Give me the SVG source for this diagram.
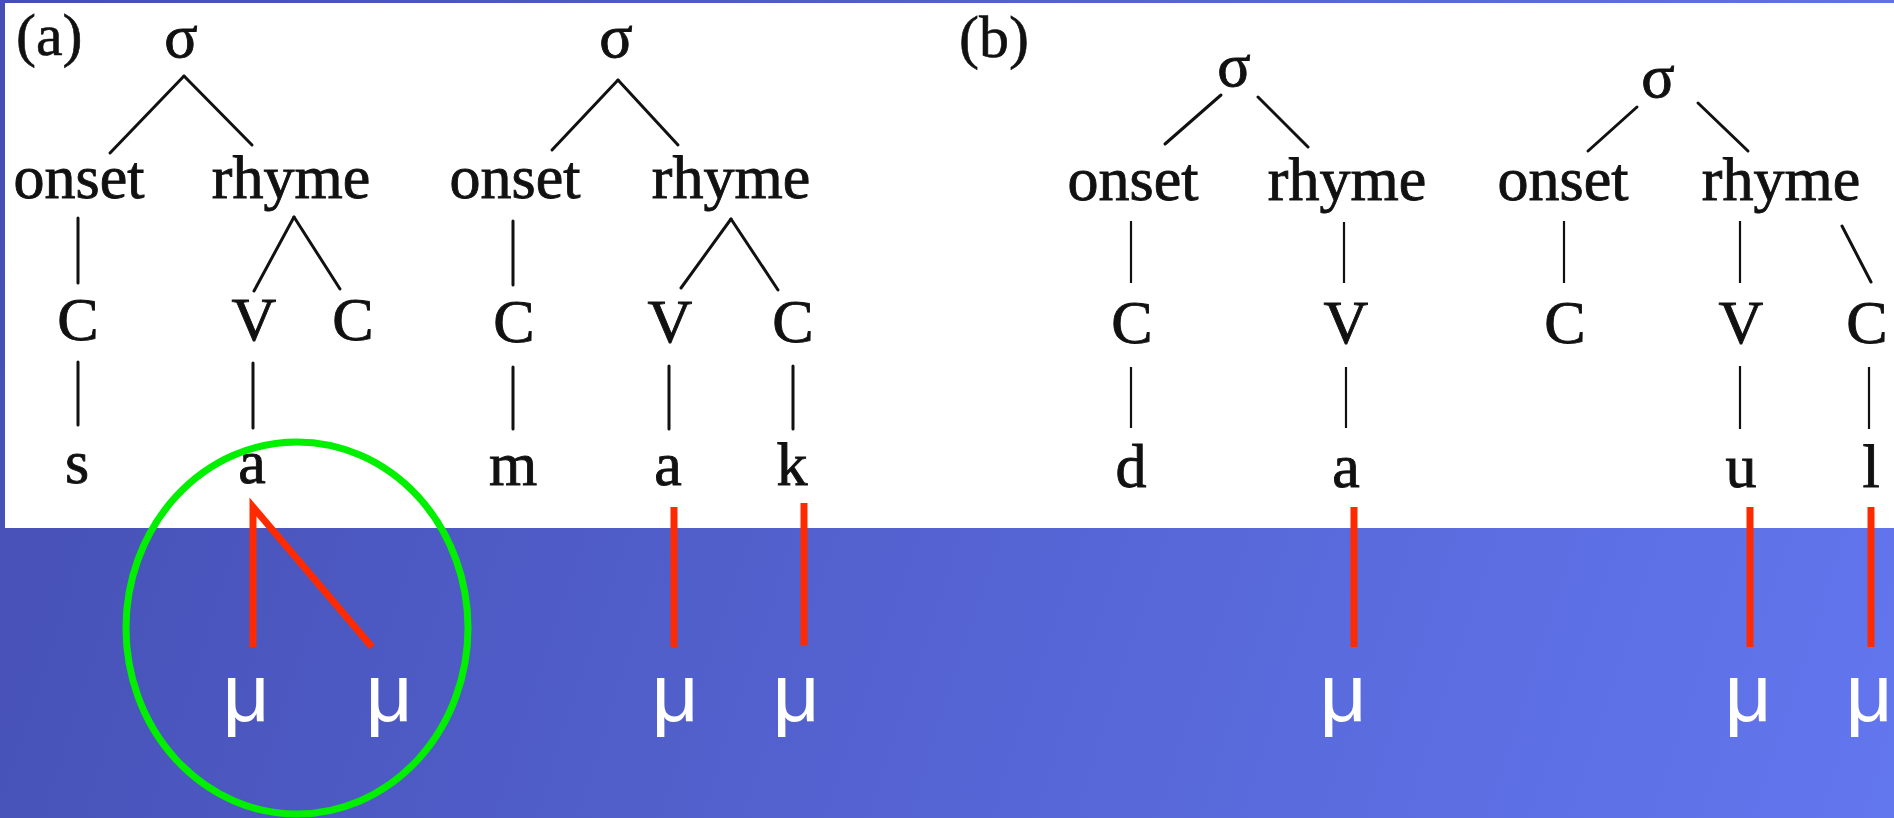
<svg xmlns="http://www.w3.org/2000/svg" width="1894" height="818" viewBox="0 0 1894 818">
<defs>
<linearGradient id="bg" gradientUnits="userSpaceOnUse" x1="0" y1="200" x2="1894" y2="818">
<stop offset="0" stop-color="#4650b4"/>
<stop offset="1" stop-color="#6276ee"/>
</linearGradient>
</defs>
<style>
.t{font-family:"Liberation Serif","Times New Roman",serif;font-size:62px;fill:#111;stroke:#111;stroke-width:0.9;text-anchor:middle}
.lb{font-family:"Liberation Serif","Times New Roman",serif;font-size:60px;fill:#111;stroke:#111;stroke-width:0.6}
.mu{font-family:"Liberation Sans",Arial,sans-serif;font-size:82px;fill:#fff;text-anchor:middle}
.k{stroke:#111;stroke-width:3;fill:none;stroke-linecap:round}
.kb{stroke:#111;stroke-width:2.2;fill:none}
.r{stroke:#ff2a00;stroke-width:7;fill:none}
</style>
<rect x="0" y="0" width="1894" height="818" fill="url(#bg)"/>
<rect x="5" y="3" width="1889" height="525" fill="#fff"/>

<g id="connectors">
<!-- tree a1 -->
<line class="k" x1="184" y1="76" x2="110" y2="153"/>
<line class="k" x1="184" y1="76" x2="252" y2="145"/>
<line class="k" x1="78" y1="218" x2="78" y2="283"/>
<line class="k" x1="294" y1="217" x2="254" y2="291"/>
<line class="k" x1="294" y1="217" x2="340" y2="289"/>
<line class="k" x1="78" y1="362" x2="78" y2="425"/>
<line class="k" x1="253" y1="363" x2="253" y2="428"/>
<!-- tree a2 -->
<line class="k" x1="618" y1="80" x2="552" y2="150"/>
<line class="k" x1="618" y1="80" x2="678" y2="145"/>
<line class="k" x1="513" y1="221" x2="513" y2="285"/>
<line class="k" x1="731" y1="219" x2="681" y2="288"/>
<line class="k" x1="731" y1="219" x2="778" y2="290"/>
<line class="k" x1="513" y1="367" x2="513" y2="429"/>
<line class="k" x1="669" y1="366" x2="669" y2="429"/>
<line class="k" x1="793" y1="366" x2="793" y2="429"/>
<!-- tree b1 -->
<line class="k" x1="1221" y1="95" x2="1165" y2="144"/>
<line class="k" x1="1258" y1="97" x2="1308" y2="147"/>
<line class="kb" x1="1131" y1="221" x2="1131" y2="283"/>
<line class="kb" x1="1344" y1="222" x2="1344" y2="283"/>
<line class="kb" x1="1131" y1="367" x2="1131" y2="428"/>
<line class="kb" x1="1346" y1="367" x2="1346" y2="428"/>
<!-- tree b2 -->
<line class="k" x1="1637" y1="107" x2="1588" y2="151"/>
<line class="k" x1="1698" y1="103" x2="1748" y2="151"/>
<line class="kb" x1="1564" y1="221" x2="1564" y2="283"/>
<line class="kb" x1="1740" y1="221" x2="1740" y2="283"/>
<line class="k" x1="1842" y1="226" x2="1871" y2="282"/>
<line class="kb" x1="1740" y1="366" x2="1740" y2="429"/>
<line class="kb" x1="1869" y1="367" x2="1869" y2="429"/>
<!-- red mora links -->
<polyline class="r" points="253,647 253,507 372,647"/>
<line class="r" x1="674" y1="507" x2="674" y2="647"/>
<line class="r" x1="804" y1="503" x2="804" y2="645"/>
<line class="r" x1="1354" y1="507" x2="1354" y2="647"/>
<line class="r" x1="1750" y1="507" x2="1750" y2="647"/>
<line class="r" x1="1871" y1="507" x2="1871" y2="647"/>
</g>

<g id="label-a"><text class="lb" x="16" y="55">(a)</text></g>
<g id="label-b"><text class="lb" x="959" y="57">(b)</text></g>

<g id="a1-sigma"><text class="t" x="181" y="57">σ</text></g>
<g id="a1-onset"><text class="t" x="79" y="198">onset</text></g>
<g id="a1-rhyme"><text class="t" x="291" y="198">rhyme</text></g>
<g id="a1-C1"><text class="t" x="78" y="340">C</text></g>
<g id="a1-V"><text class="t" x="254" y="340">V</text></g>
<g id="a1-C2"><text class="t" x="353" y="340">C</text></g>
<g id="a1-s"><text class="t" x="77" y="483">s</text></g>
<g id="a1-a"><text class="t" x="252" y="483">a</text></g>

<g id="a2-sigma"><text class="t" x="616" y="57">σ</text></g>
<g id="a2-onset"><text class="t" x="515" y="198">onset</text></g>
<g id="a2-rhyme"><text class="t" x="731" y="198">rhyme</text></g>
<g id="a2-C1"><text class="t" x="514" y="342">C</text></g>
<g id="a2-V"><text class="t" x="670" y="342">V</text></g>
<g id="a2-C2"><text class="t" x="793" y="342">C</text></g>
<g id="a2-m"><text class="t" x="513" y="485">m</text></g>
<g id="a2-a"><text class="t" x="668" y="485">a</text></g>
<g id="a2-k"><text class="t" x="792" y="485">k</text></g>

<g id="b1-sigma"><text class="t" x="1234" y="86">σ</text></g>
<g id="b1-onset"><text class="t" x="1133" y="200">onset</text></g>
<g id="b1-rhyme"><text class="t" x="1347" y="200">rhyme</text></g>
<g id="b1-C"><text class="t" x="1132" y="343">C</text></g>
<g id="b1-V"><text class="t" x="1346" y="343">V</text></g>
<g id="b1-d"><text class="t" x="1131" y="487">d</text></g>
<g id="b1-a"><text class="t" x="1346" y="487">a</text></g>

<g id="b2-sigma"><text class="t" x="1658" y="97">σ</text></g>
<g id="b2-onset"><text class="t" x="1563" y="200">onset</text></g>
<g id="b2-rhyme"><text class="t" x="1781" y="200">rhyme</text></g>
<g id="b2-C1"><text class="t" x="1565" y="343">C</text></g>
<g id="b2-V"><text class="t" x="1741" y="343">V</text></g>
<g id="b2-C2"><text class="t" x="1867" y="343">C</text></g>
<g id="b2-u"><text class="t" x="1741" y="487">u</text></g>
<g id="b2-l"><text class="t" x="1871" y="487">l</text></g>

<g id="morae">
<text class="mu" x="246" y="721">μ</text>
<text class="mu" x="389" y="721">μ</text>
<text class="mu" x="675" y="721">μ</text>
<text class="mu" x="796" y="721">μ</text>
<text class="mu" x="1343" y="721">μ</text>
<text class="mu" x="1748" y="721">μ</text>
<text class="mu" x="1869" y="721">μ</text>
</g>

<g id="highlight">
<ellipse cx="297" cy="628" rx="171" ry="186" fill="none" stroke="#00f000" stroke-width="7"/>
</g>
</svg>
